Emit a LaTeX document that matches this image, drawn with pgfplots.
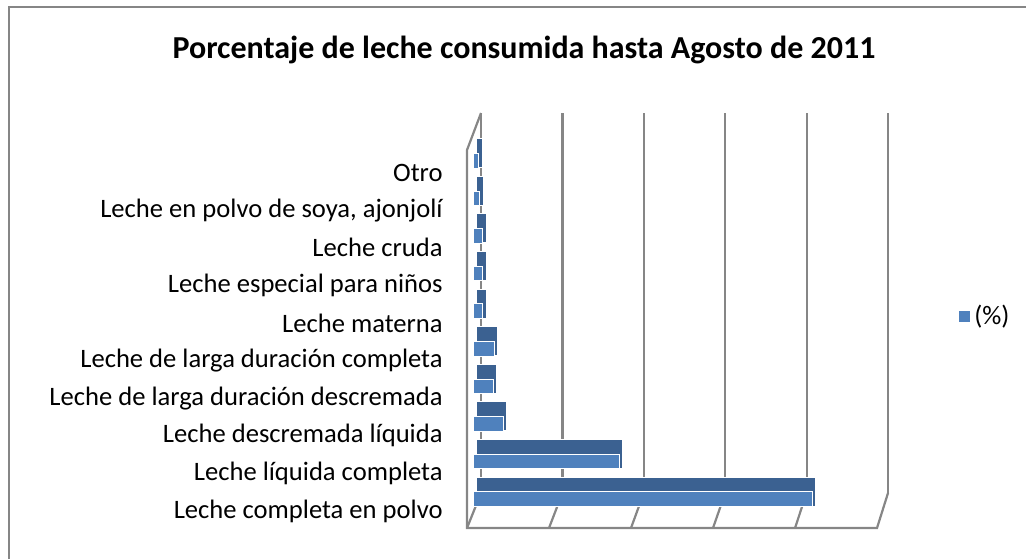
\documentclass[border=0pt]{standalone}
\usepackage{pgfplots}
\pgfplotsset{compat=1.18}
\usepackage{pgfplotstable}
\usepackage{fontspec}
\setmainfont{Carlito}
\definecolor{barblue}{HTML}{4F81BD}
\definecolor{topblue}{HTML}{3B6191}
\definecolor{gridgray}{HTML}{868686}
\pgfplotstableread{
y v
0 41.5
1 17.9
2 3.7
3 2.5
4 2.6
5 1.2
6 1.2
7 1.2
8 0.8
9 0.7
}\data
\begin{document}
\begin{tikzpicture}[x=0.5pt,y=-0.5pt]
\useasboundingbox (0,0) rectangle (1026,559);
\draw[gridgray, line width=1pt] (9,559) -- (9,7) -- (1026,7);
\node[font=\bfseries\fontsize{16}{19}\selectfont] at (524,50) {Porcentaje de leche consumida hasta Agosto de 2011};
% back wall
\foreach \k in {0,...,5} \draw[gridgray, line width=1.1pt] ({481+81.4*\k},113) -- ({481+81.4*\k},493);
% left wall
\draw[gridgray, line width=1.1pt] (481,113) -- (467,150) -- (467,528) -- (877,528) -- (888,493);
% floor lines
\foreach \k in {0,...,4} \draw[gridgray, line width=1.1pt] ({467+82*\k},528) -- ({481+81.4*\k},493);
\begin{axis}[
  at={(236.5pt,-264.9pt)}, anchor=south west,
  scale only axis, width=204.25pt, height=188pt,
  xmin=0, xmax=50, ymin=-0.5, ymax=9.5,
  axis line style={draw=none},
  xtick=\empty,
  ytick={0,...,9},
  yticklabels={Leche completa en polvo, Leche líquida completa, Leche descremada líquida, Leche de larga duración descremada, Leche de larga duración completa, Leche materna, Leche especial para niños, Leche cruda, {Leche en polvo de soya, ajonjolí}, Otro},
  major tick length=0pt,
  yticklabel style={anchor=east, inner sep=0pt, xshift=-15pt, font=\fontsize{13.3}{16}\selectfont},
  clip=false,
  xbar,
  legend style={draw=none, fill=none, font=\fontsize{13.3}{16}\selectfont, at={(1.175,0.5686)}, anchor=west, legend cell align=left},
  legend image code/.code={\fill[barblue] (0pt,-2.5pt) rectangle (5pt,2.5pt);},
]
\addplot[xbar, bar width=14.5pt, bar shift=9.75pt, fill=topblue, draw=white, line width=0.5pt, xshift=1.75pt, forget plot] table[x=v,y=y]{\data};
\addplot[xbar, bar width=7.25pt, bar shift=5.9pt, fill=barblue, draw=white, line width=0.5pt] table[x=v,y=y]{\data};
\legend{(\%)}
\end{axis}
\end{tikzpicture}
\end{document}
